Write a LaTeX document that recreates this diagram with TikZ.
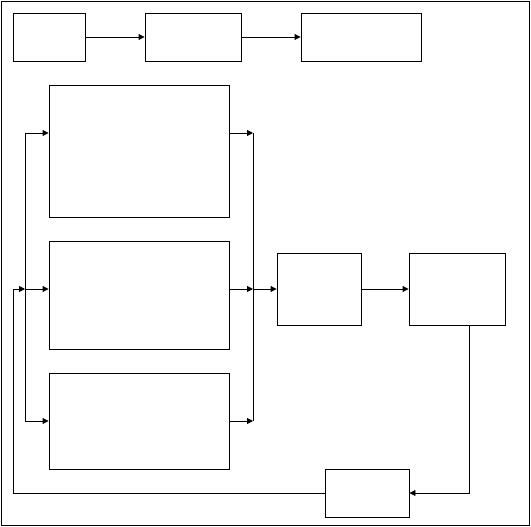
\documentclass[tikz,border=0pt]{standalone}
\usetikzlibrary{arrows.meta}
\begin{document}
\begin{tikzpicture}[x=1pt,y=-1pt,line width=0.9pt,
  blk/.style={draw,rectangle,inner sep=0pt,line width=0.9pt},
  arr/.style={-{Triangle[length=6pt,width=6pt]}},
  ln/.style={line width=0.9pt}]
\useasboundingbox (0,0) rectangle (531,527);
\draw[ln] (1.5,1.5) rectangle (529,525.5);
% blocks
\node[blk,minimum width=72pt,minimum height=48pt] (A) at (49,37) {};
\node[blk,minimum width=96pt,minimum height=48pt] (B) at (193,37) {};
\node[blk,minimum width=120pt,minimum height=48pt] (C) at (361,37) {};
\node[blk,minimum width=180pt,minimum height=132pt] (D) at (139,151) {};
\node[blk,minimum width=180pt,minimum height=108pt] (E) at (139,295) {};
\node[blk,minimum width=180pt,minimum height=96pt] (F) at (139,421) {};
\node[blk,minimum width=84pt,minimum height=72pt] (G) at (319,289) {};
\node[blk,minimum width=96pt,minimum height=72pt] (H) at (457,289) {};
\node[blk,minimum width=84pt,minimum height=48pt] (I) at (367,493) {};
% junctions
\coordinate (l1) at (25,133);
\coordinate (l2) at (25,289);
\coordinate (l3) at (25,421);
\coordinate (fb) at (13,289);
\coordinate (fbb) at (13,493);
\coordinate (r1) at (253,133);
\coordinate (r2) at (253,289);
\coordinate (r3) at (253,421);
\coordinate (hx) at (469,493);
% top row
\draw[arr] (A) -- (B);
\draw[arr] (B) -- (C);
% left distribution
\draw[ln] (l1) -- (l3);
\draw[arr] (l1) -- (D.west |- l1);
\draw[arr] (l2) -- (E.west |- l2);
\draw[arr] (l3) -- (F.west |- l3);
% feedback
\draw[arr] (I.west) -- (fbb) -- (fb) -- (l2);
% right collection
\draw[ln] (r1) -- (r3);
\draw[arr] (D.east |- r1) -- (r1);
\draw[arr] (E.east |- r2) -- (r2);
\draw[arr] (F.east |- r3) -- (r3);
\draw[arr] (r2) -- (G.west);
\draw[arr] (G) -- (H);
\draw[arr] (H.south -| hx) -- (hx) -- (I.east);
\end{tikzpicture}
\end{document}
